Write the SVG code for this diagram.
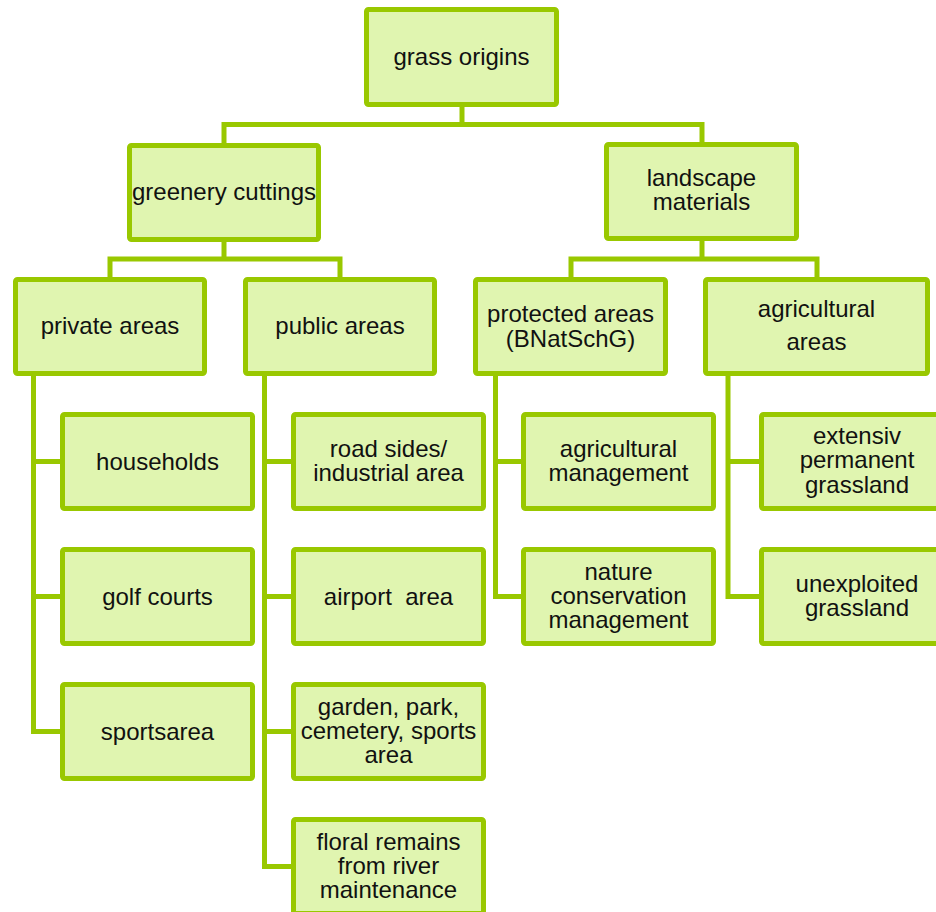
<svg xmlns="http://www.w3.org/2000/svg" width="936" height="912" viewBox="0 0 936 912">
<style>
.box{fill:#E0F5B0;stroke:#99C800;stroke-width:5}
.con{fill:none;stroke:#99C800;stroke-width:5;stroke-linejoin:miter}
text{font-family:"Liberation Sans",Arial,sans-serif;font-size:24px;fill:#111;text-anchor:middle}
</style>
<rect width="936" height="912" fill="#fff"/>
<g id="connectors">
<path class="con" d="M224,143 V124.5 H702 V142 M462,107 V124.5"/>
<path class="con" d="M110,277 V259 H340 V277 M224,242 V259"/>
<path class="con" d="M571,277 V259 H817 V277 M702,241 V259"/>
<path class="con" d="M33.5,375 V731.5 H60 M33.5,461.5 H60 M33.5,596.5 H60"/>
<path class="con" d="M264.5,375 V866.5 H291 M264.5,461.5 H291 M264.5,596.5 H291 M264.5,731.5 H291"/>
<path class="con" d="M495.5,375 V596.5 H521 M495.5,461.5 H521"/>
<path class="con" d="M728,375 V596.5 H759 M728,461.5 H759"/>
</g>
<g id="root"><rect class="box" x="366.5" y="9.5" width="190" height="95" rx="2"/><text x="461.5" y="65">grass origins</text></g>
<g id="greenery"><rect class="box" x="129.5" y="145.5" width="189" height="94" rx="2"/><text x="224" y="200">greenery cuttings</text></g>
<g id="landscape"><rect class="box" x="606.5" y="144.5" width="190" height="94" rx="2"/><text x="701.5" y="186">landscape</text><text x="701.5" y="210">materials</text></g>
<g id="private"><rect class="box" x="15.5" y="279.5" width="189" height="94" rx="2"/><text x="110" y="334">private areas</text></g>
<g id="public"><rect class="box" x="245.5" y="279.5" width="189" height="94" rx="2"/><text x="340" y="334">public areas</text></g>
<g id="protected"><rect class="box" x="475.5" y="279.5" width="190" height="94" rx="2"/><text x="570.5" y="322">protected areas</text><text x="570.5" y="347">(BNatSchG)</text></g>
<g id="agricultural"><rect class="box" x="705.5" y="279.5" width="222" height="94" rx="2"/><text x="816.5" y="317">agricultural</text><text x="816.5" y="350">areas</text></g>
<g id="households"><rect class="box" x="62.5" y="414.5" width="190" height="94" rx="2"/><text x="157.5" y="470">households</text></g>
<g id="golf"><rect class="box" x="62.5" y="549.5" width="190" height="94" rx="2"/><text x="157.5" y="605">golf courts</text></g>
<g id="sportsarea"><rect class="box" x="62.5" y="684.5" width="190" height="94" rx="2"/><text x="157.5" y="740">sportsarea</text></g>
<g id="roadsides"><rect class="box" x="293.5" y="414.5" width="190" height="94" rx="2"/><text x="388.5" y="457">road sides/</text><text x="388.5" y="481">industrial area</text></g>
<g id="airport"><rect class="box" x="293.5" y="549.5" width="190" height="94" rx="2"/><text x="388.5" y="605" xml:space="preserve">airport  area</text></g>
<g id="garden"><rect class="box" x="293.5" y="684.5" width="190" height="94" rx="2"/><text x="388.5" y="715">garden, park,</text><text x="388.5" y="739">cemetery, sports</text><text x="388.5" y="763">area</text></g>
<g id="floral"><rect class="box" x="293.5" y="819.5" width="190" height="94" rx="2"/><text x="388.5" y="850">floral remains</text><text x="388.5" y="874">from river</text><text x="388.5" y="898">maintenance</text></g>
<g id="agrimgmt"><rect class="box" x="523.5" y="414.5" width="190" height="94" rx="2"/><text x="618.5" y="457">agricultural</text><text x="618.5" y="481">management</text></g>
<g id="nature"><rect class="box" x="523.5" y="549.5" width="190" height="94" rx="2"/><text x="618.5" y="580">nature</text><text x="618.5" y="604">conservation</text><text x="618.5" y="628">management</text></g>
<g id="extensiv"><rect class="box" x="761.5" y="414.5" width="191" height="94" rx="2"/><text x="857" y="444">extensiv</text><text x="857" y="468">permanent</text><text x="857" y="493">grassland</text></g>
<g id="unexploited"><rect class="box" x="761.5" y="549.5" width="191" height="94" rx="2"/><text x="857" y="592">unexploited</text><text x="857" y="616">grassland</text></g>
</svg>
